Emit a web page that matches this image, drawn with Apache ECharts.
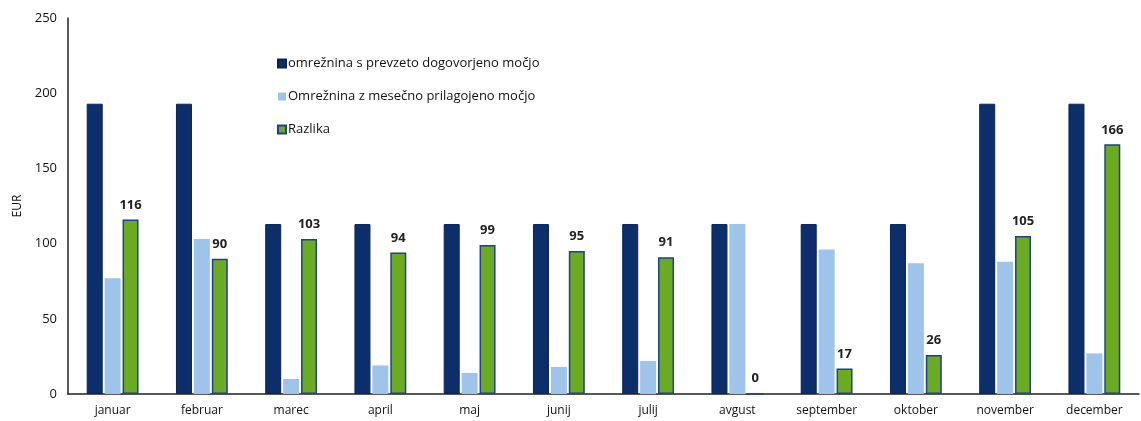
<!DOCTYPE html>
<html><head><meta charset="utf-8">
<script src="https://cdn.jsdelivr.net/npm/echarts@6/dist/echarts.min.js"></script>
<style>html,body{margin:0;padding:0;background:#fff}#c{width:1141px;height:421px}</style>
</head><body><div id="c"></div>
<script>
const categories = ['januar','februar','marec','april','maj','junij','julij','avgust','september','oktober','november','december'];
const dogovorjena = [193,193,113,113,113,113,113,113,113,113,193,193];
const prilagojena = [77,103,10,19,14,18,22,113,96,87,88,27];
const razlika = [116,90,103,94,99,95,91,0,17,26,105,166];
const seriesNames = ['omrežnina s prevzeto dogovorjeno močjo','Omrežnina z mesečno prilagojeno močjo','Razlika'];

const chart = echarts.init(document.getElementById('c'));
const font = 'Open Sans';
chart.setOption({
  animation:false,
  textStyle:{fontFamily:font},
  grid:{left:68,right:2,top:18,bottom:27,outerBoundsMode:'none'},
  legend:{
    orient:'vertical', left:272, top:52, itemGap:20, itemWidth:8, itemHeight:8,
    icon:'rect',
    textStyle:{fontFamily:font,fontSize:13,color:'#111',padding:[0,0,0,-3]},
    data:seriesNames
  },
  xAxis:{type:'category',data:categories,
    axisLine:{lineStyle:{color:'#222',width:1.5}},
    axisTick:{show:false},
    axisLabel:{fontFamily:font,fontSize:12,color:'#111',margin:11}},
  yAxis:{type:'value',min:0,max:250,interval:50,name:'EUR',nameLocation:'middle',nameGap:44,
    nameTextStyle:{fontFamily:font,fontSize:12,color:'#111'},
    axisLine:{show:true,lineStyle:{color:'#222',width:1.5}},
    axisTick:{show:false},splitLine:{show:false},
    axisLabel:{fontFamily:font,fontSize:13,color:'#111',margin:11}},
  series:[
    {name:seriesNames[0],type:'bar',data:dogovorjena,barWidth:16,barGap:'12%',
      itemStyle:{color:'#0c2f6c',borderColor:'#0a2458',borderWidth:1}},
    {name:seriesNames[1],type:'bar',data:prilagojena,barWidth:16,barGap:'12%',
      itemStyle:{color:'#9ec4ec'}},
    {name:seriesNames[2],type:'bar',data:razlika,barWidth:16,barGap:'12%',
      itemStyle:{color:'#6aab1f',borderColor:'#1d3f9e',borderWidth:1.5},
      label:{show:true,position:'top',distance:8,fontFamily:font,fontSize:13,fontWeight:'bold',color:'#222'}}
  ]
});
</script></body></html>
